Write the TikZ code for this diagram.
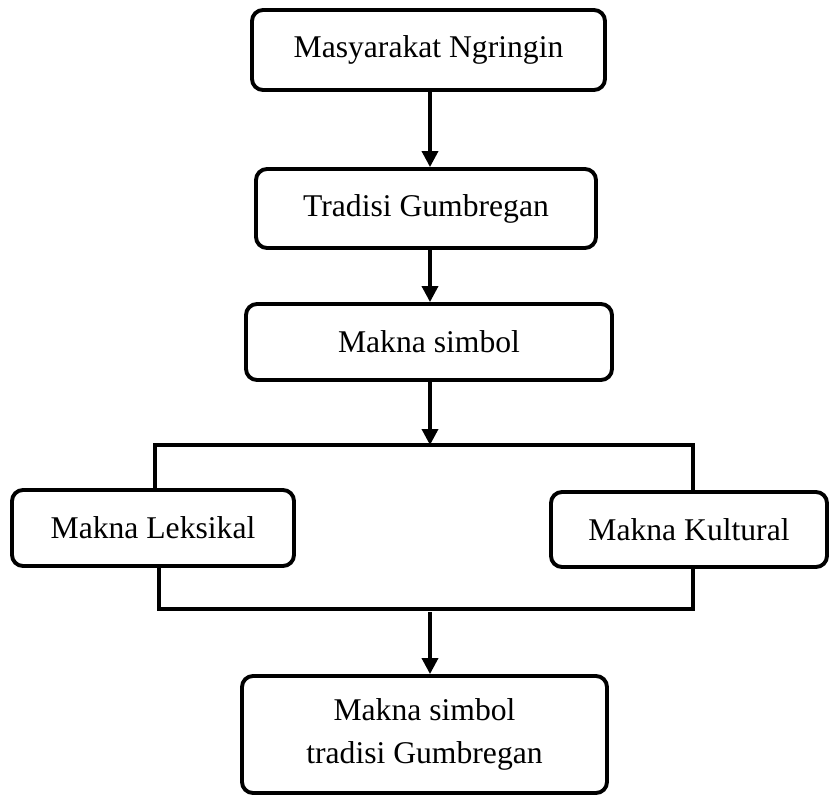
\documentclass[tikz,border=0pt]{standalone}
\usepackage{fontspec}
\setmainfont{Liberation Serif}
\usetikzlibrary{positioning,arrows.meta}

\begin{document}
\begin{tikzpicture}[
  box/.style={rectangle, draw, line width=2.2pt, rounded corners=0.22cm,
    align=center, font=\fontsize{18}{24.5}\selectfont},
  arr/.style={-{Triangle[length=0.32cm, width=0.32cm]}, line width=2pt},
  lin/.style={line width=2pt}
]
\useasboundingbox (0,0) rectangle (16.6,-15.9);

% main column
\node[box, minimum width=7.06cm, minimum height=1.6cm] (b1) at (8.57,-1.0) {Masyarakat Ngringin};
\node[box, minimum width=6.8cm, minimum height=1.58cm] (b2) at (8.52,-4.17) {Tradisi Gumbregan};
\node[box, minimum width=7.32cm, minimum height=1.52cm] (b3) at (8.58,-6.84) {Makna simbol};

% two kinds of meaning
\node[box, minimum width=5.64cm, minimum height=1.52cm] (lek) at (3.06,-10.56) {Makna Leksikal};
\node[box, minimum width=5.52cm, minimum height=1.5cm] (kul) at (13.78,-10.59) {Makna Kultural};

\node[box, minimum width=7.3cm, minimum height=2.34cm] (b5) at (8.49,-14.69) {Makna simbol\\tradisi Gumbregan};

% bracket corners
\coordinate (ax) at (8.6,0);
\coordinate (tl) at (3.1,-8.9);
\coordinate (tr) at (13.86,-8.9);
\coordinate (bl) at (3.18,-12.18);
\coordinate (br) at (13.86,-12.18);
\coordinate (jt) at (8.6,-8.9);
\coordinate (jb) at (8.6,-12.24);

\draw[arr] (b1.south -| ax) -- (b2.north -| ax);
\draw[arr] (b2.south -| ax) -- (b3.north -| ax);
\draw[arr] (b3.south -| ax) -- (jt);

\draw[lin] (lek.north -| tl) -- (tl) -- (tr) -- (kul.north -| tr);
\draw[lin] (lek.south -| bl) -- (bl) -- (br) -- (kul.south -| br);

\draw[arr] (jb) -- (b5.north -| ax);

\end{tikzpicture}
\end{document}
